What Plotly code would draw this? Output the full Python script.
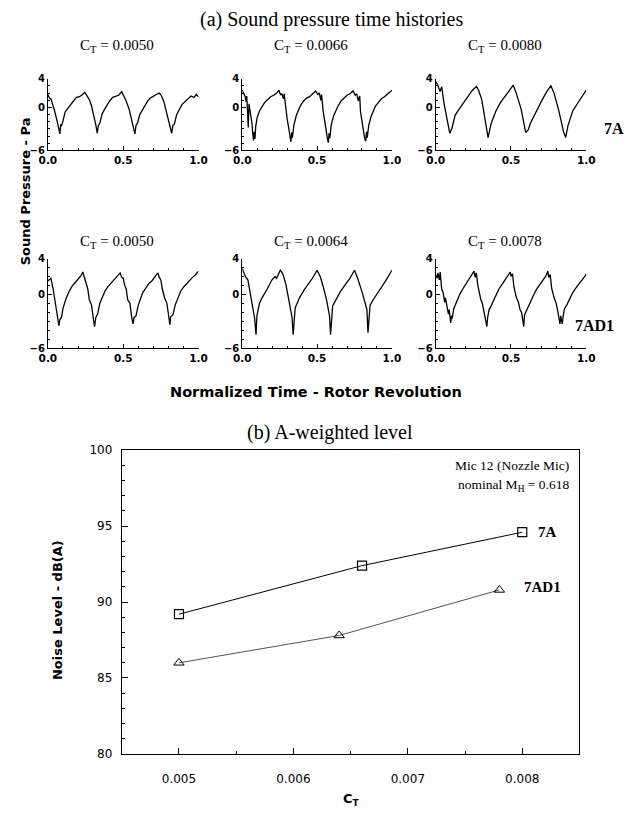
import plotly.graph_objects as go

# ---------------- data ----------------
ct_labels_7a = ["0.0050", "0.0066", "0.0080"]
ct_labels_7ad1 = ["0.0050", "0.0064", "0.0078"]

# Panel 1: 7A, CT = 0.0050
t1 = [0.00, 0.01, 0.02, 0.03, 0.045, 0.06, 0.07, 0.08, 0.085, 0.09, 0.10, 0.115, 0.13, 0.15, 0.17, 0.19, 0.21, 0.23, 0.245,
      0.26, 0.275, 0.29, 0.305, 0.318, 0.328, 0.335, 0.345, 0.36, 0.375, 0.39, 0.41, 0.43, 0.45, 0.47, 0.49,
      0.505, 0.52, 0.54, 0.555, 0.568, 0.578, 0.585, 0.595, 0.61, 0.625, 0.64, 0.66, 0.68, 0.70, 0.72, 0.74,
      0.755, 0.77, 0.785, 0.80, 0.812, 0.822, 0.83, 0.84, 0.855, 0.87, 0.89, 0.91, 0.93, 0.95, 0.97, 0.985, 1.00]
p1 = [1.8, 1.3, 1.2, 0.6, -0.5, -1.8, -2.6, -3.7, -2.4, -2.6, -1.9, -0.6, -0.2, 0.4, 0.9, 1.4, 1.5, 1.8, 2.1,
      1.6, 1.1, 0.2, -1.0, -2.4, -3.6, -2.5, -2.2, -0.9, -0.3, 0.3, 0.9, 1.4, 1.5, 1.7, 2.2,
      1.5, 0.9, -0.3, -1.5, -2.6, -3.7, -2.5, -2.2, -1.0, -0.4, 0.2, 0.8, 1.3, 1.6, 1.8, 2.0,
      1.6, 0.8, -0.4, -1.6, -2.6, -3.6, -2.5, -2.3, -1.0, -0.4, 0.4, 0.8, 1.2, 1.6, 1.4, 1.8, 1.5]

# Panel 2: 7A, CT = 0.0066
t2 = [0.00, 0.01, 0.02, 0.025, 0.03, 0.035, 0.04, 0.045, 0.055, 0.065, 0.07, 0.075, 0.08, 0.085, 0.09, 0.10, 0.115, 0.13,
      0.15, 0.17, 0.19, 0.21, 0.23, 0.245, 0.255, 0.265, 0.275, 0.28, 0.29, 0.30, 0.31, 0.318, 0.325, 0.33, 0.335,
      0.345, 0.36, 0.375, 0.39, 0.41, 0.43, 0.45, 0.47, 0.49, 0.505, 0.515, 0.525, 0.53, 0.54, 0.55, 0.56, 0.568,
      0.575, 0.58, 0.585, 0.595, 0.61, 0.625, 0.64, 0.66, 0.68, 0.70, 0.72, 0.74, 0.755, 0.765, 0.775, 0.785, 0.79,
      0.80, 0.81, 0.818, 0.825, 0.83, 0.835, 0.845, 0.86, 0.875, 0.89, 0.91, 0.93, 0.95, 0.97, 0.985, 1.00]
p2 = [2.4, 1.8, 1.5, 0.8, 1.6, -0.5, -2.8, 0.5, -0.6, -2.2, -3.6, -4.6, -3.4, -4.4, -2.6, -1.4, -0.5, 0.1,
      0.7, 1.1, 1.5, 1.7, 2.0, 2.4, 1.8, 1.9, 1.2, 1.9, 0.0, -1.6, -2.8, -4.0, -4.8, -3.5, -4.2,
      -2.5, -1.2, -0.4, 0.3, 0.9, 1.3, 1.5, 1.9, 2.3, 1.8, 2.0, 1.0, 1.8, -0.4, -2.0, -2.9, -4.2,
      -4.9, -3.6, -4.3, -2.4, -1.2, -0.4, 0.2, 0.9, 1.3, 1.7, 1.9, 2.3, 1.7, 1.9, 0.9, 1.6, -0.6,
      -2.1, -3.0, -4.3, -4.7, -3.4, -4.2, -2.5, -1.3, -0.5, 0.2, 0.7, 1.2, 1.5, 1.8, 2.1, 2.4]

# Panel 3: 7A, CT = 0.0080
t3 = [0.00, 0.015, 0.029, 0.04, 0.056, 0.077, 0.094, 0.108, 0.129, 0.15, 0.181, 0.213, 0.244, 0.271, 0.285,
      0.306, 0.327, 0.348, 0.369, 0.4, 0.431, 0.463, 0.494, 0.515, 0.535, 0.567, 0.598, 0.615, 0.629, 0.671,
      0.713, 0.744, 0.765, 0.786, 0.817, 0.848, 0.863, 0.879, 0.91, 0.952, 0.983, 1.00]
p3 = [3.6, 3.1, 2.2, 2.9, 0.5, -1.5, -3.6, -2.9, -1.1, -0.4, 0.5, 1.5, 2.4, 2.9, 2.4,
      1.1, -1.5, -4.2, -2.2, -0.5, 0.7, 1.6, 2.5, 3.1, 2.0, -0.2, -3.5, -3.1, -2.2, -0.4,
      1.3, 2.4, 3.0, 2.0, -0.4, -3.3, -4.2, -2.5, -0.5, 0.9, 1.8, 2.4]

# Panel 4: 7AD1, CT = 0.0050
t4 = [0.00, 0.02, 0.035, 0.045, 0.06, 0.073, 0.08, 0.09, 0.10, 0.12, 0.14, 0.16, 0.18, 0.20, 0.22, 0.232, 0.245,
      0.255, 0.265, 0.275, 0.29, 0.30, 0.31, 0.318, 0.33, 0.345, 0.36, 0.38, 0.40, 0.42, 0.44, 0.46, 0.48, 0.49,
      0.50, 0.51, 0.52, 0.53, 0.545, 0.555, 0.565, 0.572, 0.585, 0.60, 0.615, 0.63, 0.65, 0.67, 0.69, 0.71, 0.73,
      0.74, 0.75, 0.76, 0.775, 0.79, 0.80, 0.81, 0.815, 0.83, 0.845, 0.86, 0.88, 0.90, 0.92, 0.94, 0.96, 0.98, 1.00]
p4 = [1.5, 1.8, 0.6, -0.6, -2.0, -3.5, -2.8, -2.6, -1.6, -0.5, 0.3, 0.9, 1.3, 1.7, 2.1, 2.5, 1.8,
      1.4, 0.6, -0.6, -1.2, -2.5, -3.6, -2.6, -2.2, -1.0, -0.3, 0.4, 0.9, 1.3, 1.6, 2.0, 2.4, 1.9,
      1.8, 1.0, 0.6, -0.6, -1.0, -2.4, -3.3, -2.6, -2.4, -1.2, -0.5, 0.2, 0.7, 1.2, 1.5, 1.9, 2.4,
      1.9, 1.6, 0.6, -0.4, -1.0, -2.4, -3.4, -2.5, -2.3, -1.2, -0.5, 0.3, 0.8, 1.2, 1.5, 1.9, 2.2, 2.6]

# Panel 5: 7AD1, CT = 0.0064
t5 = [0.00, 0.021, 0.038, 0.06, 0.083, 0.092, 0.098, 0.115, 0.135, 0.167, 0.198, 0.219, 0.229, 0.254, 0.271,
      0.292, 0.313, 0.333, 0.34, 0.354, 0.385, 0.417, 0.448, 0.469, 0.5, 0.521, 0.542, 0.563, 0.583, 0.59,
      0.604, 0.625, 0.656, 0.688, 0.719, 0.75, 0.771, 0.802, 0.833, 0.84, 0.854, 0.875, 0.917, 0.958, 1.00]
p5 = [2.9, 2.0, 1.6, -0.4, -2.7, -4.5, -2.4, -1.0, -0.3, 0.6, 1.6, 2.0, 1.8, 2.7, 2.3,
      1.1, -0.6, -2.6, -4.5, -1.5, -0.3, 0.6, 1.3, 1.8, 2.7, 2.0, 0.8, -0.6, -2.4, -4.5,
      -1.3, -0.6, 0.3, 1.1, 1.8, 2.7, 1.8, 0.2, -1.7, -4.3, -1.2, -0.6, 0.4, 1.5, 2.7]

# Panel 6: 7AD1, CT = 0.0078
t6 = [0.00, 0.01, 0.015, 0.025, 0.03, 0.04, 0.05, 0.06, 0.065, 0.075, 0.085, 0.09, 0.10, 0.105, 0.11, 0.12, 0.13,
      0.145, 0.16, 0.18, 0.20, 0.22, 0.24, 0.255, 0.262, 0.27, 0.28, 0.29, 0.30, 0.31, 0.32, 0.33, 0.34, 0.345,
      0.355, 0.365, 0.38, 0.40, 0.42, 0.44, 0.46, 0.48, 0.495, 0.50, 0.51, 0.52, 0.535, 0.55, 0.56, 0.57, 0.58,
      0.585, 0.59, 0.60, 0.615, 0.63, 0.65, 0.67, 0.69, 0.71, 0.73, 0.745, 0.75, 0.76, 0.77, 0.785, 0.80, 0.81,
      0.82, 0.825, 0.83, 0.84, 0.845, 0.855, 0.87, 0.89, 0.91, 0.93, 0.95, 0.97, 0.99, 1.00]
p6 = [2.2, 1.8, 2.4, 1.6, 2.5, 0.6, 0.2, -0.9, -0.4, -1.6, -2.2, -1.7, -3.2, -2.4, -2.7, -1.6, -1.2,
      -0.5, 0.0, 0.6, 1.1, 1.6, 2.1, 2.6, 1.9, 2.4, 1.0, 0.0, -0.6, -1.0, -1.8, -2.4, -3.6, -2.6,
      -1.7, -1.4, -0.8, -0.1, 0.6, 1.1, 1.6, 2.0, 2.5, 2.0, 2.3, 0.8, -0.3, -0.9, -1.7, -2.0, -2.9,
      -3.6, -2.3, -1.9, -1.4, -0.8, -0.1, 0.6, 1.1, 1.5, 2.0, 2.6, 1.9, 2.2, 0.7, -0.3, -1.0, -1.8,
      -2.6, -3.3, -2.4, -3.3, -2.6, -1.6, -1.2, -0.5, 0.2, 0.7, 1.1, 1.6, 2.0, 2.3]

time_series = [(t1, p1), (t2, p2), (t3, p3), (t4, p4), (t5, p5), (t6, p6)]

# Panel (b): A-weighted level
ct_7a = [0.005, 0.0066, 0.008]
db_7a = [89.2, 92.4, 94.6]
ct_7ad1 = [0.005, 0.0064, 0.0078]
db_7ad1 = [86.0, 87.8, 90.8]

# ---------------- layout helpers ----------------
W, H = 640, 813
def fx(x):
    return x / W
def fy(y):
    return 1 - y / H

SERIF = "Liberation Serif, Times New Roman, serif"
SANS = "DejaVu Sans, Arial, sans-serif"

col_px = [(40, 195), (240, 394), (439, 594)]
row_px = [(73, 146), (256, 347)]
title_py = [40, 239]

fig = go.Figure()
layout = dict(
    width=W, height=H, margin=dict(l=0, r=0, t=0, b=0),
    paper_bgcolor="white", plot_bgcolor="white", showlegend=False,
)
annotations = []

titles = ct_labels_7a + ct_labels_7ad1
for i, (t, p) in enumerate(time_series):
    k = i + 1
    r, c = divmod(i, 3)
    xa = "x" if k == 1 else f"x{k}"
    ya = "y" if k == 1 else f"y{k}"
    fig.add_trace(go.Scatter(x=t, y=p, mode="lines", xaxis=xa, yaxis=ya,
                             line=dict(color="black", width=1.3), hoverinfo="skip"))
    x0, x1 = col_px[c]
    y0, y1 = row_px[r]
    layout[f"xaxis{k}" if k > 1 else "xaxis"] = dict(
        domain=[fx(x0), fx(x1)], range=[0, 1], anchor=ya,
        showgrid=False, zeroline=False, showline=True, linecolor="black", linewidth=1,
        tickvals=[0, 0.5, 1.0], ticktext=["0.0", "0.5", "1.0"], ticks="inside", ticklen=4,
        tickcolor="black", minor=dict(ticks="inside", dtick=0.1, ticklen=2, tickcolor="black"),
        tickfont=dict(family=SANS, size=10.5, color="black", weight="bold"),
    )
    layout[f"yaxis{k}" if k > 1 else "yaxis"] = dict(
        domain=[fy(y1), fy(y0)], range=[-6, 4], anchor=xa,
        showgrid=False, zeroline=False, showline=True, linecolor="black", linewidth=1,
        tickvals=[4, 0, -6], ticks="inside", ticklen=4, tickcolor="black",
        minor=dict(ticks="inside", dtick=1, ticklen=2, tickcolor="black"),
        tickfont=dict(family=SANS, size=10, color="black", weight="bold"),
    )
    annotations.append(dict(
        text=f"C<sub>T</sub> = {titles[i]}", xref="paper", yref="paper",
        x=fx((x0 + x1) / 2 - 6), y=fy(title_py[r]), xanchor="center", yanchor="middle",
        showarrow=False, font=dict(family=SERIF, size=15, color="black")))

# Bottom chart
fig.add_trace(go.Scatter(x=ct_7a, y=db_7a, mode="lines+markers", xaxis="x7", yaxis="y7",
                         line=dict(color="black", width=1),
                         marker=dict(symbol="square-open", size=9, color="black", line=dict(width=1.2)),
                         hoverinfo="skip"))
fig.add_trace(go.Scatter(x=ct_7ad1, y=db_7ad1, mode="lines+markers", xaxis="x7", yaxis="y7",
                         line=dict(color="#555555", width=1),
                         marker=dict(symbol="triangle-up-open", size=9, color="black", line=dict(width=1)),
                         hoverinfo="skip"))
layout["xaxis7"] = dict(
    domain=[fx(116), fx(587)], range=[0.0045, 0.0085], anchor="y7",
    showgrid=False, zeroline=False, showline=True, mirror=True, linecolor="black", linewidth=1,
    tickvals=[0.005, 0.006, 0.007, 0.008], ticktext=["0.005", "0.006", "0.007", "0.008"],
    ticks="inside", ticklen=6, tickcolor="black", ticklabelstandoff=14,
    minor=dict(ticks="inside", dtick=0.0005, tick0=0.0045, ticklen=3, tickcolor="black"),
    tickfont=dict(family=SANS, size=12, color="black"),
)
layout["yaxis7"] = dict(
    domain=[fy(760), fy(451)], range=[80, 100], anchor="x7",
    showgrid=False, zeroline=False, showline=True, mirror=True, linecolor="black", linewidth=1,
    tickvals=[80, 85, 90, 95, 100], ticks="inside", ticklen=6, tickcolor="black", ticklabelstandoff=6,
    minor=dict(ticks="inside", dtick=1, ticklen=3, tickcolor="black"),
    tickfont=dict(family=SANS, size=12, color="black"),
)

# Text annotations
annotations += [
    dict(text="(a) Sound pressure time histories", xref="paper", yref="paper", x=fx(332), y=fy(13),
         xanchor="center", yanchor="middle", showarrow=False, font=dict(family=SERIF, size=20, color="black")),
    dict(text="<b>Sound Pressure - Pa</b>", xref="paper", yref="paper", x=fx(17), y=fy(188),
         xanchor="center", yanchor="middle", textangle=-90, showarrow=False,
         font=dict(family=SANS, size=13, color="black")),
    dict(text="<b>Normalized Time - Rotor Revolution</b>", xref="paper", yref="paper", x=fx(316), y=fy(392),
         xanchor="center", yanchor="middle", showarrow=False, font=dict(family=SANS, size=14.5, color="black")),
    dict(text="<b>7A</b>", xref="paper", yref="paper", x=fx(610), y=fy(124),
         xanchor="left", yanchor="middle", showarrow=False, font=dict(family=SERIF, size=16, color="black")),
    dict(text="<b>7AD1</b>", xref="paper", yref="paper", x=fx(625), y=fy(324),
         xanchor="right", yanchor="middle", showarrow=False, font=dict(family=SERIF, size=16, color="black")),
    dict(text="(b) A-weighted level", xref="paper", yref="paper", x=fx(330), y=fy(433),
         xanchor="center", yanchor="middle", showarrow=False, font=dict(family=SERIF, size=20, color="black")),
    dict(text="<b>Noise Level - dB(A)</b>", xref="paper", yref="paper", x=fx(50), y=fy(614),
         xanchor="center", yanchor="middle", textangle=-90, showarrow=False,
         font=dict(family=SANS, size=13, color="black")),
    dict(text="<b>C<sub>T</sub></b>", xref="paper", yref="paper", x=fx(352), y=fy(806),
         xanchor="center", yanchor="middle", showarrow=False, font=dict(family=SANS, size=13, color="black")),
    dict(text="Mic 12 (Nozzle Mic)", xref="x7", yref="y7", x=0.00843, y=99.0,
         xanchor="right", yanchor="middle", showarrow=False, font=dict(family=SERIF, size=13.5, color="black")),
    dict(text="nominal M<sub>H</sub> = 0.618", xref="x7", yref="y7", x=0.00843, y=97.7,
         xanchor="right", yanchor="middle", showarrow=False, font=dict(family=SERIF, size=13.5, color="black")),
    dict(text="<b>7A</b>", xref="x7", yref="y7", x=0.00812, y=94.6,
         xanchor="left", yanchor="middle", showarrow=False, font=dict(family=SERIF, size=15, color="black")),
    dict(text="<b>7AD1</b>", xref="x7", yref="y7", x=0.00800, y=91.0,
         xanchor="left", yanchor="middle", showarrow=False, font=dict(family=SERIF, size=15, color="black")),
]
layout["annotations"] = annotations
fig.update_layout(**layout)
fig.write_html("out.html")
